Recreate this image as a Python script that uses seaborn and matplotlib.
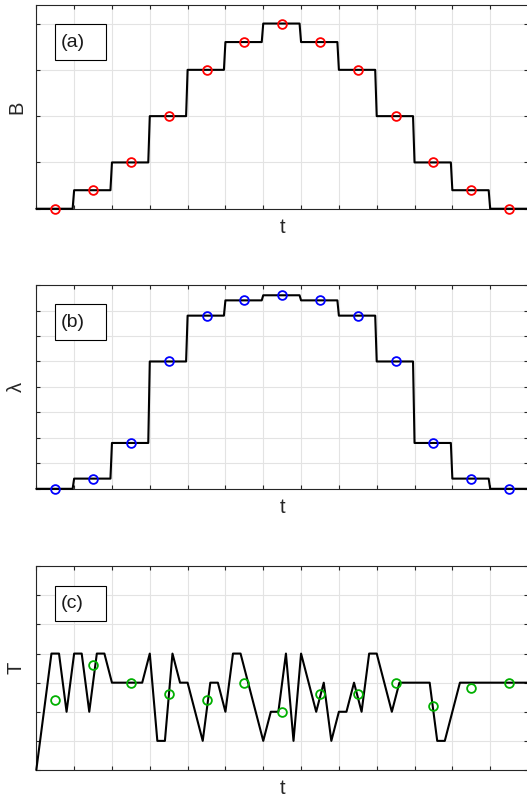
import numpy as np
import pandas as pd
import matplotlib
matplotlib.use("Agg")
import matplotlib.pyplot as plt
from matplotlib.patches import Rectangle
import seaborn as sns

# Per-interval levels (one value per unit time interval, 13 intervals)
B_levels = [0, 0.4, 1, 2, 3, 3.6, 4, 3.6, 3, 2, 1, 0.4, 0]
lam_levels = [0, 0.4, 1.8, 5.0, 6.8, 7.4, 7.6, 7.4, 6.8, 5.0, 1.8, 0.4, 0]

# T sampled every 0.2 time units from t = 0 to t = 13
T_samples = [
    0, 2, 4, 4, 2,
    4, 4, 2, 4, 4,
    3, 3, 3, 3, 3,
    4, 1, 1, 4, 3,
    3, 2, 1, 3, 3,
    2, 4, 4, 3, 2,
    1, 2, 2, 4, 1,
    4, 3, 2, 3, 1,
    2, 2, 3, 2, 4,
    4, 3, 2, 3, 3,
    3, 3, 3, 1, 1,
    2, 3, 3, 3, 3,
    3, 3, 3, 3, 3,
    3,
]
# Interval averages of T
T_means = [2.4, 3.6, 3.0, 2.6, 2.4, 3.0, 2.0, 2.6, 2.6, 3.0, 2.2, 2.8, 3.0]

panel_tags = ["(a)", "(b)", "(c)"]
y_names = ["B", "\u03bb", "T"]
y_limits = [(0, 4.4), (0, 8), (0, 7)]
y_tick_tops = [4, 8, 7]
marker_colors = ["#ff0000", "#0000ff", "#00b000"]

n_int = len(B_levels)
t_mid = np.arange(n_int) + 0.5

# Finely sampled step curves for B and lambda
steps_per_unit = 25
k = np.arange(n_int * steps_per_unit + 1)
t_fine = k / steps_per_unit
idx = np.minimum(k // steps_per_unit, n_int - 1)

def step_frame(levels):
    return pd.DataFrame({"t": t_fine, "v": np.asarray(levels)[idx]})

t_T = np.arange(len(T_samples)) * 0.2
curves = [
    step_frame(B_levels),
    step_frame(lam_levels),
    pd.DataFrame({"t": t_T, "v": T_samples}),
]
points = [
    pd.DataFrame({"t": t_mid, "v": B_levels}),
    pd.DataFrame({"t": t_mid, "v": lam_levels}),
    pd.DataFrame({"t": t_mid, "v": T_means}),
]

sns.set_theme(style="white")
plt.rcParams["font.family"] = ["Liberation Sans", "DejaVu Sans"]

fig = plt.figure(figsize=(5.27, 7.97), dpi=100)
left, width, height = 0.0689, 0.9330, 0.2556
bottoms = [0.7381, 0.3867, 0.0339]

spine_col = "#262626"
for i in range(3):
    ax = fig.add_axes([left, bottoms[i], width, height])
    sns.lineplot(data=curves[i], x="t", y="v", ax=ax, color="black",
                 linewidth=1.5, estimator=None, sort=False, zorder=3,
                 clip_on=False)
    sns.lineplot(data=points[i], x="t", y="v", ax=ax, linestyle="",
                 marker="o", markersize=6.3, markerfacecolor="none",
                 markeredgecolor=marker_colors[i], markeredgewidth=1.3,
                 color=marker_colors[i], estimator=None, zorder=4,
                 clip_on=False)
    ax.set_xlim(0, n_int)
    ax.set_ylim(*y_limits[i])
    ax.set_xticks(np.arange(0, n_int + 1))
    ax.set_yticks(np.arange(0, y_tick_tops[i] + 1))
    ax.set_xticklabels([])
    ax.set_yticklabels([])
    ax.grid(True, color="#e3e3e3", linewidth=0.8)
    ax.set_axisbelow(True)
    ax.tick_params(direction="in", length=3.2, width=0.8, color=spine_col,
                   top=True, right=True, bottom=True, left=True)
    for s in ax.spines.values():
        s.set_visible(True)
        s.set_color(spine_col)
        s.set_linewidth(0.8)
    ax.set_xlabel("t", fontsize=14.5, labelpad=3, color="#262626")
    ax.set_ylabel(y_names[i], fontsize=14.5, labelpad=4, color="#262626")
    ax.add_patch(Rectangle((0.039, 0.73), 0.103, 0.175, transform=ax.transAxes,
                           facecolor="white", edgecolor="black",
                           linewidth=0.8, zorder=5))
    ax.text(0.05, 0.818, panel_tags[i], transform=ax.transAxes, fontsize=14,
            ha="left", va="center", color="#1a1a1a", zorder=6)

fig.savefig("out.png", dpi=100)
